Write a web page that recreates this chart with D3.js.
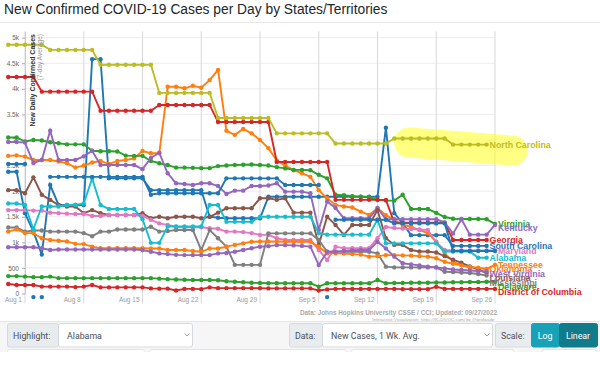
<!DOCTYPE html>
<html>
<head>
<meta charset="utf-8">
<script src="https://cdn.jsdelivr.net/npm/d3@7"></script>
<style>
  body { margin: 0; background: #fff; }
  svg { display: block; font-family: "Liberation Sans", Arial, sans-serif; }
</style>
</head>
<body>
<svg id="chart" width="600" height="386"></svg>
<script>
// first day of every series, one value per day after that (7-day avg of new cases)
var startDate = new Date(2022, 6, 30);

var stateNames = ["South Carolina", "Tennessee", "Virginia", "Georgia", "Kentucky",
  "Louisiana", "Maryland", "Mississippi", "North Carolina", "Alabama",
  "Arkansas", "Oklahoma", "Delaware", "District of Columbia", "West Virginia"];

var southCarolina = [2380,2380,1570,1210,760,2120,1730,1730,1730,1730,
  4580,4580,2250,2250,2250,2250,2250,2020,2020,2020,
  2020,2020,2020,2020,1500,1480,1470,1470,1470,1470,
  1470,1890,1890,1890,1890,1890,1890,1890,1890,1890,
  1890,1890,1890,1890,1890,3240,1570,1370,1140,1140,
  1140,1140,1140,930,930,930,930,930];
var tennessee = [2690,2700,2675,2610,2610,2610,2580,2545,2460,2500,
  2560,2590,2530,2590,2610,2640,2785,2740,2740,4040,
  4040,4010,4060,4020,4170,4370,3180,3100,3215,3130,
  3000,2840,2600,2500,2410,2350,2280,2020,1860,1730,
  1700,1680,1600,1535,1665,1530,1440,1340,1305,1240,
  1180,1010,790,620,555,510,500,480,560];
var virginia = [3050,3050,2970,3000,2990,2955,2935,2915,2915,2915,
  2790,2780,2780,2775,2695,2690,2690,2590,2545,2510,
  2460,2460,2455,2450,2450,2490,2500,2510,2515,2520,
  2510,2500,2470,2445,2415,2415,2410,2320,2250,1930,
  1920,1900,1890,1880,1830,1815,1815,1930,1650,1650,
  1650,1575,1495,1460,1455,1455,1455,1450,1360];
var georgia = [4230,4230,4230,4230,3945,3945,3945,3945,3945,3945,
  3945,3570,3570,3570,3570,3570,3570,3570,3685,3685,
  3685,3685,3685,3685,3685,3350,3350,3350,3350,3350,
  3350,3350,2570,2570,2570,2570,2570,2570,2570,1830,
  1830,1830,1830,1830,1830,1830,1385,1385,1385,1385,
  1385,1385,1385,1045,1045,1045,1045,1045];
var kentucky = [2960,2960,2950,2550,2610,3180,2610,2610,2610,2680,
  2790,2510,2510,2510,2510,2510,2430,2650,2750,2350,
  2155,2140,2120,2155,2155,2100,1945,2010,2010,2100,
  2100,2110,2155,1990,1990,1990,1960,1240,1800,1670,
  1470,1470,1470,1470,1670,1450,1450,1450,1450,1450,
  1450,1450,1390,1170,1450,1150,1150,1150,1340];
var louisiana = [2020,2020,1960,2270,1930,1830,1730,1700,1700,1570,
  1630,1570,1535,1535,1535,1535,1570,1470,1500,1470,
  1500,1500,1500,1470,1500,1580,1665,1665,1665,1665,
  1860,1860,1830,1860,1580,1580,1580,950,1500,1340,
  1145,1340,1340,1340,1630,1080,950,950,850,820,
  820,800,730,660,600,530,470,400];
var maryland = [1630,1630,1630,1620,1620,1580,1570,1560,1555,1555,
  1515,1515,1535,1535,1535,1535,1515,1440,1370,1340,
  1305,1295,1295,1295,1275,1265,1210,1210,1200,1180,
  1145,1145,1080,1045,1045,1045,1045,850,655,915,
  885,885,885,885,1080,1300,1280,1270,1260,1250,
  1240,1000,850,840,840,840,840,840,840];
var mississippi = [1290,1290,1210,1230,1230,1210,1210,1210,1210,1180,
  1120,1210,1210,1250,1250,1250,1250,1305,1210,1220,
  1240,1240,1240,850,1240,1080,915,560,560,560,
  560,1175,1175,1175,1175,1175,1175,1045,815,815,
  815,815,815,815,785,525,510,510,510,510,
  510,510,425,420,410,400,380,350];
var northCarolina = [4860,4860,4860,4860,4860,4760,4760,4760,4760,4760,
  4760,4470,4470,4470,4470,4470,4470,4470,3920,3920,
  3920,3920,3920,3920,3920,3430,3430,3430,3430,3430,
  3430,3430,3130,3130,3130,3130,3130,3130,3130,2930,
  2930,2930,2930,2930,2930,2930,3030,3030,3030,3030,
  3030,3030,3030,2910,2910,2910,2910,2910];
var alabama = [1760,1760,1730,1255,1700,1700,1700,1730,1730,1760,
  2250,1730,1650,1650,1650,1650,1450,990,990,1310,
  1310,1310,1310,1310,1730,1730,1400,1400,1400,1400,
  1500,1500,1500,1500,1500,1500,1500,1180,1150,1150,
  1150,1150,1150,1150,1440,980,980,980,980,980,
  980,980,820,820,820,820,700,700];
var arkansas = [2530,2530,2530,-70,-70,2280,2280,2280,2280,2280,
  2280,2280,2280,2280,2280,2280,2280,1930,1960,1960,
  1960,1960,1960,1960,1960,1960,2250,2250,2250,2250,
  2250,2250,2250,2120,2120,2120,2120,2120,-70,1440,
  1440,1440,1440,1440,1440,1440,1370,1370,1370,1370,
  1370,1370,1370,830,830,830,830,830,830];
var oklahoma = [1210,1255,1180,1180,1080,1045,1030,1015,970,965,
  915,885,885,885,885,885,885,880,880,850,
  850,850,830,815,880,880,915,950,980,1010,
  1015,1015,1015,1010,1010,1010,1010,915,785,785,
  780,770,760,720,730,750,750,745,740,730,
  720,690,620,580,550,520,500,480];
var delaware = [340,340,330,320,320,330,300,300,300,300,
  300,300,300,300,300,300,300,300,290,280,
  275,270,265,265,265,260,240,230,220,210,
  205,200,200,200,200,200,200,135,200,200,
  200,200,200,200,265,200,205,205,210,210,
  210,215,215,220,220,225,225,230,230];
var districtOfColumbia = [185,165,165,165,135,135,135,135,125,135,
  165,120,120,120,120,120,120,100,95,95,
  60,90,90,85,120,105,105,105,105,105,
  105,100,100,100,100,100,100,60,80,90,
  90,90,90,90,90,90,90,85,85,85,
  85,130,90,90,90,90,90,90,90];
var westVirginia = [905,905,905,905,885,850,860,860,860,860,
  860,860,860,860,860,860,850,815,785,770,
  755,750,750,750,750,785,790,815,850,885,
  915,925,945,945,940,930,915,555,815,815,
  830,845,850,850,1010,880,720,590,570,550,
  525,510,490,470,460,450,440,430];

var stateValues = [southCarolina, tennessee, virginia, georgia, kentucky,
  louisiana, maryland, mississippi, northCarolina, alabama,
  arkansas, oklahoma, delaware, districtOfColumbia, westVirginia];

var yTicks = [0, 500, 1000, 1500, 2000, 2500, 3000, 3500, 4000, 4500, 5000];
var unlabeled = ["Arkansas"];
var highlighted = "North Carolina";
var highlightFrom = new Date(2022, 8, 16);

var titleText = "New Confirmed COVID-19 Cases per Day by States/Territories";
var sourceText = "Data: Johns Hopkins University CSSE / CCI; Updated: 09/27/2022";
var creditText = "Interactive Visualization: https://91-DIVOC.com/ by @profwade_";

var svg = d3.select("#chart");

var x = d3.scaleTime()
  .domain([new Date(2022, 7, 1), new Date(2022, 8, 26)])
  .range([25, 495]);
var y = d3.scaleLinear().domain([0, 5120]).range([293.5, 31.5]);

var series = stateValues.map(function(vals, i) {
  return {
    name: stateNames[i],
    color: d3.schemeCategory10[i % 10],
    values: vals.map(function(v, j) { return { date: d3.timeDay.offset(startDate, j), v: v }; })
  };
});

// title + frame
svg.append("text")
  .attr("x", 4).attr("y", 14)
  .attr("font-size", 13.8).attr("fill", "#212529")
  .text(titleText);
svg.append("line")
  .attr("x1", 0).attr("x2", 600).attr("y1", 22.5).attr("y2", 22.5)
  .attr("stroke", "#e8e8e8");

// grid
var weekTicks = x.ticks(d3.timeMonday.every(1));
svg.append("g").selectAll("line")
  .data(yTicks.slice(1))
  .enter().append("line")
    .attr("x1", x.range()[0]).attr("x2", x.range()[1])
    .attr("y1", function(d) { return y(d); })
    .attr("y2", function(d) { return y(d); })
    .attr("stroke", "#ececf2");
svg.append("g").selectAll("line")
  .data(weekTicks)
  .enter().append("line")
    .attr("x1", function(d) { return x(d); })
    .attr("x2", function(d) { return x(d); })
    .attr("y1", y.range()[1]).attr("y2", y(0) + 10)
    .attr("stroke", "#d8d8dc");

// axes
var yAxis = svg.append("g")
  .attr("transform", "translate(" + x.range()[0] + ",0)")
  .call(d3.axisLeft(y).tickValues(yTicks).tickSize(3).tickSizeOuter(0).tickFormat(d3.format("~s")));
yAxis.select(".domain").attr("stroke", "#c8c8cc");
yAxis.selectAll(".tick line").attr("stroke", "#aaa");
yAxis.selectAll("text").attr("font-size", 6.5).attr("fill", "#666").attr("font-family", null);

svg.append("g").selectAll("text")
  .data(weekTicks)
  .enter().append("text")
    .attr("x", function(d) { return x(d) - 3; })
    .attr("y", y(0) + 8)
    .attr("text-anchor", "end")
    .attr("font-size", 6.5).attr("fill", "#999")
    .text(d3.timeFormat("%b %-d"));

// highlight blob behind North Carolina's last week
var hl = series.filter(function(s) { return s.name === highlighted; })[0];
var hlPts = hl.values.filter(function(d) { return d.date >= highlightFrom; });
var hlFirst = hlPts[0], hlLast = hlPts[hlPts.length - 1];
svg.append("path")
  .attr("d", d3.line()([[x(hlFirst.date) - 2, y(hlFirst.v) + 4], [x(hlLast.date) + 26, y(hlLast.v) + 6]]))
  .attr("stroke", "#ffff1a").attr("stroke-opacity", 0.55)
  .attr("stroke-width", 30).attr("stroke-linecap", "round").attr("fill", "none");

// lines and dots
var line = d3.line()
  .defined(function(d) { return d.v > 0; })
  .x(function(d) { return x(d.date); })
  .y(function(d) { return y(d.v); });

var groups = svg.append("g").selectAll("g")
  .data(series)
  .enter().append("g");
groups.append("path")
  .attr("d", function(d) { return line(d.values); })
  .attr("fill", "none")
  .attr("stroke", function(d) { return d.color; })
  .attr("stroke-width", 1.9);
groups.selectAll("circle")
  .data(function(d) { return d.values.map(function(p) { return { p: p, color: d.color }; }); })
  .enter().append("circle")
    .attr("cx", function(d) { return x(d.p.date); })
    .attr("cy", function(d) { return y(d.p.v); })
    .attr("r", 2.2)
    .attr("fill", function(d) { return d.color; });

// axis title
svg.append("text")
  .attr("transform", "translate(34.5,34) rotate(-90)")
  .attr("text-anchor", "end")
  .attr("font-size", 7).attr("font-weight", "bold").attr("fill", "#333")
  .text("New Daily Confirmed Cases");
svg.append("text")
  .attr("transform", "translate(41.5,34) rotate(-90)")
  .attr("text-anchor", "end")
  .attr("font-size", 6.5).attr("fill", "#999")
  .text("(7-day Average)");

// end labels, pushed apart downwards
var labelGap = 4.5;
var labels = series
  .filter(function(s) { return unlabeled.indexOf(s.name) < 0; })
  .map(function(s) {
    var last = s.values[s.values.length - 1];
    return { name: s.name, color: s.color, x: x(last.date) + 3, y: y(last.v) };
  })
  .sort(function(a, b) { return a.y - b.y; });
for (var i = 1; i < labels.length; i++) {
  if (labels[i].y < labels[i - 1].y + labelGap) labels[i].y = labels[i - 1].y + labelGap;
}
svg.append("g").selectAll("text")
  .data(labels)
  .enter().append("text")
    .attr("x", function(d) { return d.x; })
    .attr("y", function(d) { return d.y; })
    .attr("dy", "0.35em")
    .attr("font-size", 8.8).attr("font-weight", "bold")
    .attr("fill", function(d) { return d.color; })
    .text(function(d) { return d.name; });

// source lines
svg.append("text")
  .attr("x", x.range()[1] + 2).attr("y", 314.5)
  .attr("text-anchor", "end").attr("font-size", 6.4).attr("font-weight", "bold").attr("fill", "#aaa")
  .text(sourceText);
svg.append("text")
  .attr("x", x.range()[1] + 2).attr("y", 320.5)
  .attr("text-anchor", "end").attr("font-size", 4.4).attr("fill", "#aaa")
  .text(creditText);

// control bar (static picture of the page's form)
var bar = svg.append("g");
bar.append("rect").attr("x", 0).attr("y", 321).attr("width", 600).attr("height", 31).attr("fill", "#f6f6f7");
bar.append("line").attr("x1", 0).attr("x2", 600).attr("y1", 321.5).attr("y2", 321.5).attr("stroke", "#e6e6e6");

var boxes = [
  { x: 7, w: 51, fill: "#e9ecef", text: "Highlight:", color: "#495057", pad: 6 },
  { x: 58, w: 134, fill: "#fff", text: "Alabama", color: "#495057", pad: 9, chevron: true },
  { x: 289, w: 33, fill: "#e9ecef", text: "Data:", color: "#495057", pad: 6 },
  { x: 322, w: 170, fill: "#fff", text: "New Cases, 1 Wk. Avg.", color: "#495057", pad: 9, chevron: true },
  { x: 495, w: 36, fill: "#e9ecef", text: "Scale:", color: "#495057", pad: 6 },
  { x: 531, w: 28, fill: "#17a2b8", text: "Log", color: "#fff", center: true },
  { x: 559, w: 38, fill: "#117a8b", text: "Linear", color: "#fff", center: true }
];
var bx = bar.selectAll("g.box").data(boxes).enter().append("g");
bx.append("rect")
  .attr("x", function(d) { return d.x + 0.5; }).attr("y", 323.5)
  .attr("width", function(d) { return d.w; }).attr("height", 23.5)
  .attr("rx", 2)
  .attr("fill", function(d) { return d.fill; })
  .attr("stroke", function(d) { return d.center ? d.fill : "#d6dade"; });
bx.append("text")
  .attr("x", function(d) { return d.center ? d.x + d.w / 2 : d.x + d.pad; })
  .attr("y", 338.5)
  .attr("text-anchor", function(d) { return d.center ? "middle" : "start"; })
  .attr("font-size", 8.8)
  .attr("font-family", "Roboto, 'Liberation Sans', sans-serif")
  .attr("fill", function(d) { return d.color; })
  .text(function(d) { return d.text; });
bx.filter(function(d) { return d.chevron; }).append("path")
  .attr("d", function(d) {
    var cx = d.x + d.w - 5;
    return "M" + (cx - 2.5) + ",333.5L" + cx + ",336L" + (cx + 2.5) + ",333.5";
  })
  .attr("fill", "none").attr("stroke", "#888").attr("stroke-width", 0.8);

// tops of the next row of controls
var nextRow = [[7, 137], [149, 197], [351, 162], [542, 54]];
bar.selectAll("rect.next").data(nextRow).enter().append("rect")
  .attr("x", function(d) { return d[0] + 0.5; }).attr("y", 349.5)
  .attr("width", function(d) { return d[1]; }).attr("height", 8)
  .attr("rx", 2).attr("fill", "#fff").attr("stroke", "#e2e4e6");
bar.append("rect").attr("x", 0).attr("y", 352).attr("width", 600).attr("height", 34).attr("fill", "#fff");
</script>
</body>
</html>
